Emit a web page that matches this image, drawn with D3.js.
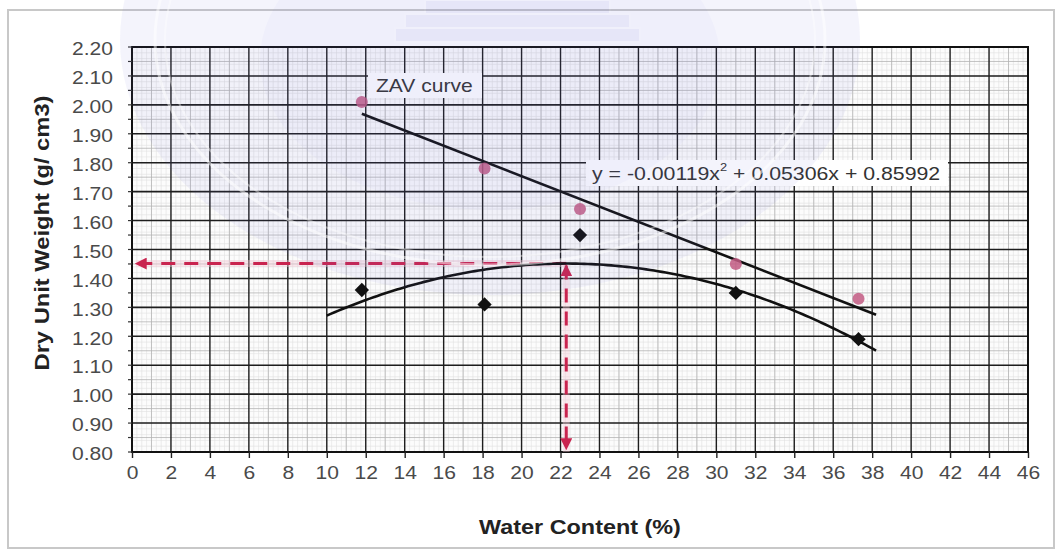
<!DOCTYPE html>
<html>
<head>
<meta charset="utf-8">
<script src="https://cdn.jsdelivr.net/npm/d3@7"></script>
<style>
  html, body { margin: 0; padding: 0; background: #ffffff; }
  svg { display: block; }
  text { font-family: "Liberation Sans", Arial, sans-serif; }
</style>
</head>
<body>
<svg id="chart" width="1062" height="551"></svg>
<script>
// Compaction test: water content (%) vs dry unit weight (g/cm3)
const waterContent   = [11.8, 18.1, 23.0, 31.0, 37.3];
const dryUnitWeight  = [1.36, 1.31, 1.55, 1.35, 1.19];
const zavUnitWeight  = [2.01, 1.78, 1.64, 1.45, 1.33];

// Second-order fit printed on the chart: y = a x^2 + b x + c
const fitCoeffs = [-0.00119, 0.05306, 0.85992];
const fitRange  = [10, 38.2];
const zavRange  = [11.8, 38.2];

const xTicks = d3.range(0, 47, 2);
const yTicks = [0.80, 0.90, 1.00, 1.10, 1.20, 1.30, 1.40, 1.50, 1.60, 1.70, 1.80, 1.90, 2.00, 2.10, 2.20];

const xTitle = "Water Content (%)";
const yTitle = "Dry Unit Weight (g/ cm3)";
const zavLabel = "ZAV curve";

const svg = d3.select("#chart");
const plot = { left: 132, right: 1028, top: 47, bottom: 452 };

const x = d3.scaleLinear().domain([0, 46]).range([plot.left, plot.right]);
const y = d3.scaleLinear().domain([0.8, 2.2]).range([plot.bottom, plot.top]);
const SX = 1.17; // horizontal text stretch

// outer frame
svg.append("rect").attr("x", 8).attr("y", 10).attr("width", 1046).attr("height", 538)
  .attr("fill", "#ffffff").attr("stroke", "#c8c8c8").attr("stroke-width", 2);

// plot background
svg.append("rect").attr("x", plot.left).attr("y", plot.top)
  .attr("width", plot.right - plot.left).attr("height", plot.bottom - plot.top)
  .attr("fill", "#fcfcfc");

const grid = svg.append("g");
// fine graph-paper mesh
grid.selectAll("line.fx").data(d3.range(0, 46.01, 0.25)).join("line")
  .attr("x1", d => x(d)).attr("x2", d => x(d)).attr("y1", plot.top).attr("y2", plot.bottom)
  .attr("stroke", "#e0e0e0").attr("stroke-width", 0.6);
grid.selectAll("line.fy").data(d3.range(0.8, 2.2001, 0.02)).join("line")
  .attr("y1", d => y(d)).attr("y2", d => y(d)).attr("x1", plot.left).attr("x2", plot.right)
  .attr("stroke", "#e0e0e0").attr("stroke-width", 0.6);
// medium lines
grid.selectAll("line.mx").data(d3.range(1, 46, 2)).join("line")
  .attr("x1", d => x(d)).attr("x2", d => x(d)).attr("y1", plot.top).attr("y2", plot.bottom)
  .attr("stroke", "#b4b4b4").attr("stroke-width", 0.8);
grid.selectAll("line.my").data(d3.range(0.85, 2.2, 0.1)).join("line")
  .attr("y1", d => y(d)).attr("y2", d => y(d)).attr("x1", plot.left).attr("x2", plot.right)
  .attr("stroke", "#b4b4b4").attr("stroke-width", 0.8);
// major lines
grid.selectAll("line.Mx").data(xTicks).join("line")
  .attr("x1", d => x(d)).attr("x2", d => x(d)).attr("y1", plot.top).attr("y2", plot.bottom)
  .attr("stroke", "#1e1e1e").attr("stroke-width", 1.4);
grid.selectAll("line.My").data(yTicks).join("line")
  .attr("y1", d => y(d)).attr("y2", d => y(d)).attr("x1", plot.left).attr("x2", plot.right)
  .attr("stroke", "#1e1e1e").attr("stroke-width", 1.6);

// plot border
svg.append("rect").attr("x", plot.left).attr("y", plot.top)
  .attr("width", plot.right - plot.left).attr("height", plot.bottom - plot.top)
  .attr("fill", "none").attr("stroke", "#111").attr("stroke-width", 2);

// axes
const xAxis = svg.append("g").attr("transform", `translate(0,${plot.bottom})`)
  .call(d3.axisBottom(x).tickValues(xTicks).tickSize(6).tickPadding(8).tickFormat(d3.format("d")));
xAxis.select(".domain").remove();
xAxis.selectAll(".tick line").attr("stroke", "#222").attr("stroke-width", 1.4);
xAxis.selectAll(".tick text").attr("font-size", 18).attr("fill", "#4a4a4a")
  .attr("dy", "0.71em").attr("transform", `scale(${SX},1)`).attr("x", 0);

const yAxis = svg.append("g").attr("transform", `translate(${plot.left},0)`)
  .call(d3.axisLeft(y).tickValues(yTicks).tickSize(0).tickPadding(0).tickFormat(d3.format(".2f")));
yAxis.select(".domain").remove();
yAxis.selectAll(".tick text").attr("font-size", 18).attr("fill", "#4a4a4a")
  .attr("transform", `translate(-19,2) scale(${SX},1)`).attr("x", 0);
// minor y ticks at the left edge
svg.append("g").selectAll("line").data(d3.range(0.8, 2.2001, 0.05)).join("line")
  .attr("x1", plot.left - 4).attr("x2", plot.left).attr("y1", d => y(d)).attr("y2", d => y(d))
  .attr("stroke", "#333").attr("stroke-width", 1.2);

// axis titles
svg.append("text")
  .attr("transform", `translate(580,527) scale(${SX},1)`)
  .attr("text-anchor", "middle").attr("dominant-baseline", "central")
  .attr("font-size", 20).attr("font-weight", "bold").attr("fill", "#222").text(xTitle);
svg.append("text")
  .attr("transform", `translate(42,233) rotate(-90)`)
  .attr("text-anchor", "middle").attr("dominant-baseline", "central")
  .attr("font-size", 20).attr("font-weight", "bold").attr("fill", "#222")
  .attr("textLength", 275).attr("lengthAdjust", "spacingAndGlyphs").text(yTitle);

// optimum read-off from the fitted curve
const [a, b, c] = fitCoeffs;
const fit = w => a * w * w + b * w + c;
const wOpt = -b / (2 * a);
const gMax = fit(wOpt);

const red = "#c9244f";
const defs = svg.append("defs");
defs.append("marker").attr("id", "arrow").attr("viewBox", "0 0 10 10")
  .attr("refX", 9).attr("refY", 5).attr("markerWidth", 4).attr("markerHeight", 4)
  .attr("markerUnits", "strokeWidth").attr("orient", "auto-start-reverse")
  .append("path").attr("d", "M0,0 L10,5 L0,10 z").attr("fill", red);

const guides = svg.append("g");
// soft glow under the guide lines
guides.append("line").attr("x1", x(wOpt)).attr("x2", x(0.2)).attr("y1", y(gMax)).attr("y2", y(gMax))
  .attr("stroke", "#f5c8d5").attr("stroke-width", 7).attr("opacity", 0.4);
guides.append("line").attr("x1", x(wOpt)).attr("x2", x(wOpt)).attr("y1", y(gMax)).attr("y2", y(0.8))
  .attr("stroke", "#f5c8d5").attr("stroke-width", 7).attr("opacity", 0.4);
guides.append("line").attr("x1", x(wOpt)).attr("x2", x(0.2)).attr("y1", y(gMax)).attr("y2", y(gMax))
  .attr("stroke", red).attr("stroke-width", 3).attr("stroke-dasharray", "14,9")
  .attr("marker-end", "url(#arrow)");
guides.append("line").attr("x1", x(wOpt)).attr("x2", x(wOpt)).attr("y1", y(gMax) + 2).attr("y2", y(0.81))
  .attr("stroke", red).attr("stroke-width", 3).attr("stroke-dasharray", "14,9")
  .attr("marker-start", "url(#arrow)").attr("marker-end", "url(#arrow)");

// ZAV linear trend through the zero-air-void points
const mx = d3.mean(waterContent), my = d3.mean(zavUnitWeight);
const slope = d3.sum(waterContent, (w, i) => (w - mx) * (zavUnitWeight[i] - my)) /
              d3.sum(waterContent, w => (w - mx) * (w - mx));
const zav = w => my + slope * (w - mx);
svg.append("line").attr("x1", x(zavRange[0])).attr("y1", y(zav(zavRange[0])))
  .attr("x2", x(zavRange[1])).attr("y2", y(zav(zavRange[1])))
  .attr("stroke", "#111").attr("stroke-width", 2.6);

// compaction curve
const curvePts = d3.range(fitRange[0], fitRange[1] + 0.001, 0.2).map(w => [w, fit(w)]);
svg.append("path").datum(curvePts)
  .attr("d", d3.line().x(d => x(d[0])).y(d => y(d[1])))
  .attr("fill", "none").attr("stroke", "#111").attr("stroke-width", 2.6);

// ZAV points
svg.append("g").selectAll("circle").data(waterContent).join("circle")
  .attr("cx", d => x(d)).attr("cy", (d, i) => y(zavUnitWeight[i])).attr("r", 6)
  .attr("fill", "#c25a82").attr("opacity", 0.85);

// measured dry unit weight points
svg.append("g").selectAll("path").data(waterContent).join("path")
  .attr("d", d3.symbol(d3.symbolDiamond2, 130)())
  .attr("transform", (d, i) => `translate(${x(d)},${y(dryUnitWeight[i])})`)
  .attr("fill", "#111");

// labels on white boxes
svg.append("rect").attr("x", 368).attr("y", 73).attr("width", 114).attr("height", 25).attr("fill", "#fff");
svg.append("text").attr("transform", `translate(376,86) scale(${SX},1)`)
  .attr("dominant-baseline", "central").attr("font-size", 18).attr("fill", "#333").text(zavLabel);

svg.append("rect").attr("x", 586).attr("y", 160).attr("width", 362).attr("height", 26).attr("fill", "#fff");
const eq = svg.append("text").attr("transform", `translate(592,174) scale(${SX},1)`)
  .attr("dominant-baseline", "central").attr("font-size", 18.2).attr("fill", "#333");
eq.append("tspan").text(`y = ${fitCoeffs[0].toFixed(5)}x`);
eq.append("tspan").attr("font-size", 11).attr("dy", -7).text("2");
eq.append("tspan").attr("dy", 7).text(`  + ${fitCoeffs[1].toFixed(5)}x  + ${fitCoeffs[2].toFixed(5)}`);

// faint seal watermark over the page
const wm = svg.append("g").attr("pointer-events", "none");
wm.append("ellipse").attr("cx", 490).attr("cy", 40).attr("rx", 370).attr("ry", 255)
  .attr("fill", "#6a6ad8").attr("opacity", 0.075);
wm.append("ellipse").attr("cx", 490).attr("cy", 40).attr("rx", 335).attr("ry", 225)
  .attr("fill", "none").attr("stroke", "#ffffff").attr("stroke-width", 3).attr("opacity", 0.5);
wm.append("ellipse").attr("cx", 490).attr("cy", 40).attr("rx", 325).attr("ry", 217)
  .attr("fill", "none").attr("stroke", "#ffffff").attr("stroke-width", 2).attr("opacity", 0.4);
wm.append("ellipse").attr("cx", 490).attr("cy", 60).attr("rx", 230).attr("ry", 150)
  .attr("fill", "#6a6ad8").attr("opacity", 0.035);
[[395, 28, 245, 14], [405, 14, 225, 14], [425, 0, 185, 14]].forEach(r => {
  wm.append("rect").attr("x", r[0]).attr("y", r[1]).attr("width", r[2]).attr("height", r[3])
    .attr("fill", "#6a6ad8").attr("opacity", 0.06)
    .attr("stroke", "#ffffff").attr("stroke-width", 2);
});
</script>
</body>
</html>
